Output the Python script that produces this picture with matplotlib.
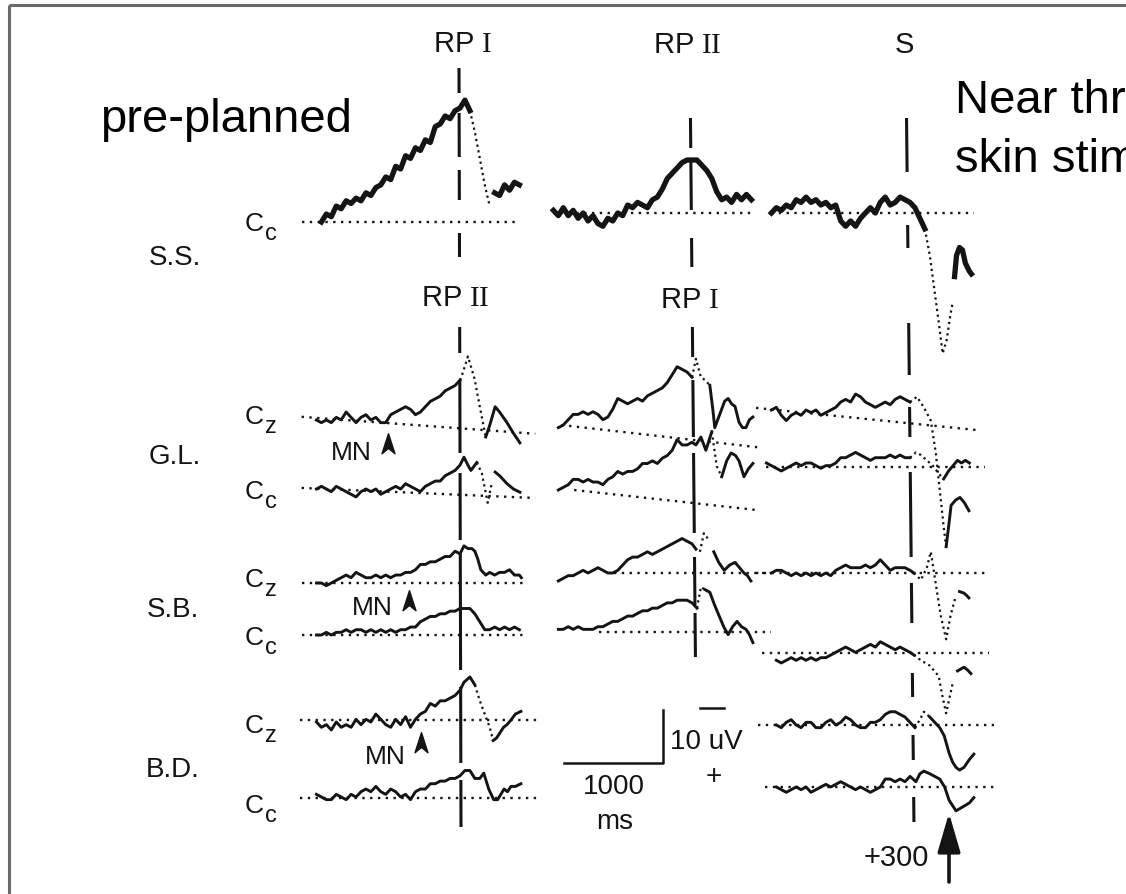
import numpy as np
import matplotlib
matplotlib.use("Agg")
import matplotlib.pyplot as plt
import matplotlib.transforms as mtransforms
from matplotlib.path import Path

plt.rcParams['font.family'] = ['Liberation Sans', 'DejaVu Sans']
plt.rcParams['mathtext.fontset'] = 'custom'
plt.rcParams['mathtext.rm'] = 'Liberation Serif'

# ---- data: traces in ms (event = 0) and uV (negative = up) ----
# pre-event part sampled every 50 ms starting at t0, post-event part as (t, v)
STEP = 50

# S.S. (Cc)
ss1_pre = [0, -1.5, -1, -3, -2.5, -4, -3.5, -4.5, -4, -5.5, -5, -6.5, -7, -8.5, -8,
           -10.5, -10, -12.5, -12, -14, -13.5, -15.5, -15, -18, -18.5, -20, -19.5, -21, -21.5]
ss1_t = [50, 100, 150, 200, 250, 300, 350, 400, 450, 500, 550, 600]
ss1_v = [-23, -21, -17, -12, -7, -3, -5.5, -5, -7, -6, -7.5, -7]

ss2_pre = [-0.5, 0.5, -1, 0.5, -0.5, 1, 0, 1.5, 0.5, 2, 2.5, 1, 1.5, 0, 0.5, -1.5, -1,
           -2, -1.5, -1, -2.5, -3, -4.5, -6.5, -7.5, -8.5, -9.5, -10, -10]
ss2_t = [50, 100, 150, 200, 250, 300, 350, 400, 450, 500, 550, 600]
ss2_v = [-10, -9, -8, -6.5, -4, -2.5, -3, -2, -3.5, -2.5, -3.5, -2.5]

ss3_pre = [0, -1, -0.5, -1.5, -1, -2.5, -2, -3, -2, -2.5, -1.5, -2, -1, -1.5, 1.5, 2.5,
           1.5, 2.5, 1, 0, -1, 0, -2, -3, -1.5, -2, -3, -2.5, -2]
ss3_t = [50, 100, 150, 200, 250, 300, 330, 370, 410, 430, 450, 470, 500, 530, 560, 600, 620]
ss3_v = [-1, 1, 3, 8, 15, 22, 26.5, 24, 19, 17, 12, 8, 6.5, 7, 9.5, 11, 11.5]

# G.L. (Cz, Cc)
glz1_pre = [0, 0.5, 0, 0.5, -0.5, 0, -1.5, -0.5, 0.5, -0.5, -1, 0, -0.5, 0.5, 0.5, -1,
            -1.5, -2, -2.5, -2, -1, -1.5, -2.5, -3.5, -4, -4.5, -5.5, -6, -6.5, -7.5]
glz1_t = [30, 80, 120, 150, 200, 260, 300, 355, 400, 475, 540, 605]
glz1_v = [-9, -12, -9.5, -7.5, -2.5, 3.2, 1, -2.5, -1.5, 0.5, 2.5, 4.3]

glc1_pre = [0, -0.5, 0, 0.5, -0.5, 0, 0.5, 1, 1.5, 0.5, 0, 0.5, 0, 1, 0.5, 0, -0.5, 0,
            -1, -0.5, 0, 0.5, -0.5, -1, -1.5, -1.5, -2.5, -3, -3.5, -4.5]
glc1_t = [40, 80, 110, 170, 220, 280, 320, 355, 400, 475, 540, 605]
glc1_v = [-6, -4.5, -3.5, -5, -3, 2.6, -1, -3.2, -2.5, -1, 0, 0.6]

glz2_pre = [0.5, 0, -1, -2, -2, -2.5, -2, -2.5, -2, -1, -1.5, -3, -5, -4.5, -4, -4.5, -5,
            -4.5, -5.5, -6, -6.5, -7, -8, -9.5, -11, -10.5, -10, -9]
glz2_t = [40, 90, 130, 180, 210, 230, 260, 290, 330, 365, 400, 435, 475, 510, 545, 580, 615]
glz2_v = [-12.5, -9, -8.5, -7.5, -3, 0.5, -1, -2.5, -4.5, -5, -4, -3.5, -0.5, 0.5, 0.5, -1, -1.5]

glc2_pre = [0, -0.5, -1, -2, -2, -1.5, -2, -1.5, -1.5, -1, -2, -2.5, -3.5, -3, -3.5, -3.5,
            -4, -5, -5, -5.5, -5, -6, -6.5, -7.5, -9.5, -8.5, -8.5, -9]
glc2_t = [40, 90, 140, 200, 250, 300, 350, 395, 440, 475, 525, 570, 615]
glc2_v = [-8.5, -10, -7.5, -11, -4.5, -2.5, -5.5, -7, -6.5, -5.5, -2.5, -4, -5]

glz3_pre = [0, -0.5, 1, 2, 1, 0.5, 1, 0, 0.5, 0, 1, 0.5, 0, -0.5, -1.5, -2, -1.5, -3,
            -2.5, -1.5, -1, -0.5, -1, -1.5, -1, -2, -2.5, -2, -1.5]
glz3_t = [70, 140, 210, 260, 300, 340, 365, 390, 415, 460, 505, 550, 595]
glz3_v = [-2.5, -0.5, 2, 8, 15, 22, 25.8, 22, 18, 17, 16.5, 17.5, 19]

glc3_pre = [0, 0.5, 1, 1.5, 1, 0.5, 0, 0.5, 0, 0, 0.5, 1, 0.5, 0.5, 0, -1, -1, -1.5, -2,
            -1.5, -1, -0.5, -1, -1, -1, -1.5, -1, -1.5, -1, -1]
glc3_t = [60, 110, 170, 230, 290, 340, 390, 435, 480, 520, 560, 600]
glc3_v = [-2, -1.5, -0.5, 0.5, 2, 3, 1.5, 0.5, -0.5, 0, -0.5, 0]

# S.B. (Cz, Cc)
sbz1_pre = [0, 0, 0.5, 0, -0.5, -1, -1.5, -1, -2, -1.5, -1, -1, -1.5, -1, -1.5, -1, -1.5,
            -1.5, -2, -2, -2.5, -3.5, -3.5, -4, -4, -4.5, -5, -5, -6, -5.5]
sbz1_t = [40, 80, 120, 150, 180, 210, 260, 300, 350, 400, 450, 500, 550, 600, 620]
sbz1_v = [-7, -6.5, -6.5, -6, -4.5, -2.5, -1.5, -2, -1.5, -2, -2, -2.5, -1.5, -1.5, -1]

sbc1_pre = [0, 0, -0.5, 0, -0.5, -0.5, -1, -0.5, -1, -1, -0.5, -1, -0.5, -1, -0.5, -1,
            -0.5, -1, -1, -1.5, -1.5, -2.5, -3, -3.5, -3.5, -4, -4, -4.5, -4.5, -5]
sbc1_t = [50, 100, 150, 200, 250, 300, 350, 400, 450, 500, 550, 600]
sbc1_v = [-5, -5, -4, -2.5, -1, -1, -1.5, -1, -1.5, -1, -1.5, -1]

sbz2_pre = [1.5, 1, 0.5, 0.5, 0, -0.5, 0, -0.5, -1, -0.5, 0, 0, -0.5, -1.5, -2.5, -3, -3,
            -3.5, -4, -3.5, -4, -4.5, -5, -5.5, -6, -6.5, -6, -5.5]
sbz2_t = [40, 80, 120, 160, 220, 270, 325, 380, 435, 480, 525, 560, 595]
sbz2_v = [-4.5, -4, -7.5, -6.5, -4, -2, -0.5, -1.5, -2, -1, 0, 0.5, 1.5]

sbc2_pre = [-0.5, -0.5, -1, -0.5, -1, -0.5, -0.5, -0.5, -1, -1, -1.5, -2, -2, -2.5, -3,
            -3, -3.5, -4, -4, -4.5, -4.5, -5, -5.5, -5.5, -6, -6, -6, -5.5]
sbc2_t = [50, 90, 130, 180, 230, 275, 320, 365, 410, 455, 500, 545, 580, 615]
sbc2_v = [-4.5, -8.5, -8, -7.5, -5, -3, -1, 0.5, -1, -2, -1, -0.5, 0.5, 2]

sbz3_pre = [0, -0.5, -0.5, 0, 0.5, 0, 0.5, 0, 0.5, 0, 0.5, 0, 0.5, -0.5, -1, -1.5, -1,
            -1, -1, -1.5, -1, -1.5, -2.5, -1.5, -0.5, -1, -1, -1, -0.5]
sbz3_t = [40, 110, 170, 210, 260, 310, 365, 410, 460, 500, 545, 570, 595]
sbz3_v = [0, 1.3, -1, -4, 2, 8, 12.5, 8, 4.5, 3.5, 3.8, 4.2, 4.7]

sbc3_pre = [1, 1.5, 1, 0.5, 1, 0.5, 1, 0.5, 1, 0.5, 0.5, 0, -0.5, -1, -1.5, -1, -0.5, -1,
            -1.5, -2, -1.5, -2.5, -2, -1.5, -1, -1.5, -1, -0.5]
sbc3_t = [40, 110, 200, 290, 330, 365, 400, 435, 480, 545, 580, 615]
sbc3_v = [0, 1, 2, 4, 8, 11, 8, 5, 3, 2.3, 2.8, 3.5]

# B.D. (Cz, Cc)
bdz1_pre = [0, 1, 0.5, 1.5, 0, 1, 0.5, 1, -0.5, 0.5, -0.5, 0, -1.5, -0.5, 0.5, 1, -0.5,
            0.5, -1, 1, -0.5, -1.5, -2, -3.5, -3, -4, -4, -4.5, -5, -6]
bdz1_t = [40, 100, 150, 200, 250, 300, 335, 370, 405, 440, 475, 520, 560, 615]
bdz1_v = [-7.5, -8.5, -7, -4, -1.5, 1, 3.5, 3, 2, 1, 0.5, -0.5, -1.5, -2]

bdc1_pre = [-0.5, 0, 0.5, 0.5, -0.5, 0, 0.5, -0.5, 0, -1, -1.5, -1, -2, -1, -0.5, -1.5,
            -1, 0, -0.5, 0.5, -1, -1.5, -1.5, -2.5, -2.5, -3, -3, -3.5, -3.5, -4]
bdc1_t = [50, 100, 150, 200, 240, 290, 340, 380, 445, 480, 515, 560, 615]
bdc1_v = [-5, -5, -3.5, -3.5, -4.5, -1.5, 0.5, 0.5, -1.5, -1, -2, -2, -2.5]

bdz3_pre = [0, 0.5, -0.5, -1, 0, 0.5, -0.5, -0.5, 0.5, 0.5, -0.5, -1, 0, -0.5, -1.5, -1,
            0, 0.5, 0.5, -0.5, -0.5, -1, -2, -2.5, -2.5, -2, -1.5, -0.5]
bdz3_t = [50, 100, 140, 200, 250, 300, 345, 395, 430, 465, 500, 545, 600, 645]
bdz3_v = [0.5, -1, -2.5, -1.5, -0.5, 0.5, 2, 5.3, 7, 8, 8.5, 8, 6.5, 5.5]

bdc3_pre = [0, 0.5, 1, 0.5, 0, 0.5, 0, 1, 0.5, 0, -0.5, 0, -0.5, -1, -0.5, 0, 0.5, 0,
            0.5, 1, 0.5, 0, -1.5, -1.5, -1, -1.5, -1, -2]
bdc3_t = [60, 100, 140, 200, 250, 300, 350, 395, 430, 465, 510, 555, 600, 645]
bdc3_v = [-1, -2.5, -3, -2.5, -2, -1.5, 0, 2.5, 3.5, 4.5, 4, 3.5, 3, 2]

# ---- layout (pixels) ----
W, H = 1126, 894
PX_PER_MS = 0.099   # 1000 ms = 99 px
PX_PER_UV = 5.3     # 10 uV = 53 px
COL_EV = [460, 692, 910]

# (pre, t0, post_t, post_v, column, baseline_y, linewidth, dotted window, baseline (t0, t1, v0, v1))
TRACES = [
    (ss1_pre, -1400, ss1_t, ss1_v, 0, 222, 3.8, (100, 320), (-1600, 585, 0, 0)),
    (ss2_pre, -1400, ss2_t, ss2_v, 1, 213, 3.8, None, (-1400, 630, 0, 0)),
    (ss3_pre, -1400, ss3_t, ss3_v, 2, 213, 3.8, (150, 440), (-1400, 650, 0, 0)),
    (glz1_pre, -1450, glz1_t, glz1_v, 0, 420, 2.1, (0, 260), (-1600, 760, -0.6, 2.6)),
    (glc1_pre, -1450, glc1_t, glc1_v, 0, 489, 2.1, (170, 330), (-1600, 760, -0.2, 1.7)),
    (glz2_pre, -1350, glz2_t, glz2_v, 1, 425, 2.1, (0, 180), (-1320, 665, 0, 4.2)),
    (glc2_pre, -1350, glc2_t, glc2_v, 1, 490, 2.1, (200, 300), (-1190, 665, 0, 3.8)),
    (glz3_pre, -1400, glz3_t, glz3_v, 2, 410, 2.1, (0, 365), (-1555, 685, -0.4, 3.8)),
    (glc3_pre, -1450, glc3_t, glc3_v, 2, 463, 2.1, (0, 340), (-1450, 755, 0.8, 0.8)),
    (sbz1_pre, -1450, sbz1_t, sbz1_v, 0, 583, 2.1, None, (-1600, 655, 0, 0)),
    (sbc1_pre, -1450, sbc1_t, sbc1_v, 0, 635, 2.1, None, (-1600, 655, 0, 0)),
    (sbz2_pre, -1350, sbz2_t, sbz2_v, 1, 573, 2.1, (60, 200), (-790, 800, 0, 0)),
    (sbc2_pre, -1350, sbc2_t, sbc2_v, 1, 632, 2.1, (50, 130), (-940, 800, 0, 0)),
    (sbz3_pre, -1400, sbz3_t, sbz3_v, 2, 573, 2.1, (40, 480), (-1555, 800, 0, 0)),
    (sbc3_pre, -1350, sbc3_t, sbc3_v, 2, 655, 2.1, (40, 470), (-1495, 800, -0.3, -0.3)),
    (bdz1_pre, -1450, bdz1_t, bdz1_v, 0, 722, 2.1, (150, 335), (-1615, 780, -0.4, -0.4)),
    (bdc1_pre, -1450, bdc1_t, bdc1_v, 0, 797, 2.1, None, (-1615, 800, 0.2, 0.2)),
    (bdz3_pre, -1350, bdz3_t, bdz3_v, 2, 725, 2.1, (50, 200), (-1535, 850, 0, 0)),
    (bdc3_pre, -1350, bdc3_t, bdc3_v, 2, 787, 2.1, None, (-1465, 850, 0, 0)),
]

# event marker lines: x at top, x at bottom, visible pieces (y0, y1)
EVENT_LINES = [
    (459, 461, [(68, 93), (113, 157), (170, 200), (233, 257), (327, 353), (380, 453),
                (473, 540), (553, 670), (687, 763), (780, 827)]),
    (690, 697, [(118, 148), (160, 210), (238, 267), (327, 357), (380, 437), (453, 533),
                (557, 605), (613, 657)]),
    (906, 914, [(118, 172), (225, 248), (323, 375), (407, 437), (472, 557), (583, 623),
                (673, 697), (735, 760), (797, 822)]),
]

fig = plt.figure(figsize=(W / 100, H / 100), dpi=100)
ax = fig.add_axes([0, 0, 1, 1])
ax.set_xlim(0, W)
ax.set_ylim(H, 0)
ax.axis('off')

def panel(ev, base):
    return mtransforms.Affine2D().scale(PX_PER_MS, PX_PER_UV).translate(ev, base) + ax.transData

INK = '#141414'

for pre, t0, pt, pv, col, base, lw, dots, bl in TRACES:
    tr = panel(COL_EV[col], base)
    t = np.concatenate([t0 + STEP * np.arange(len(pre)), pt])
    v = np.concatenate([pre, pv])
    # dotted baseline
    ax.plot([bl[0], bl[1]], [bl[2], bl[3]], transform=tr, color=INK, lw=1.7,
            dashes=(1, 2.3), zorder=2)
    if dots is None:
        ax.plot(t, v, transform=tr, color=INK, lw=lw, zorder=3, solid_joinstyle='round')
    else:
        a = t <= dots[0]
        b = (t >= dots[0]) & (t <= dots[1])
        c = t >= dots[1]
        ax.plot(t[a], v[a], transform=tr, color=INK, lw=lw, zorder=3, solid_joinstyle='round')
        ax.plot(t[b], v[b], transform=tr, color=INK, lw=1.6, dashes=(1, 1.6), zorder=3)
        ax.plot(t[c], v[c], transform=tr, color=INK, lw=lw, zorder=3, solid_joinstyle='round')

for xt, xb, pieces in EVENT_LINES:
    for y0, y1 in pieces:
        x0 = xt + (xb - xt) * (y0 - 68) / (827 - 68)
        x1 = xt + (xb - xt) * (y1 - 68) / (827 - 68)
        ax.plot([x0, x1], [y0, y1], color=INK, lw=2.2, solid_capstyle='butt', zorder=4)

# frame (cropped on the right and bottom)
ax.plot([9, 9], [5, H], color='#6a6a6a', lw=2.2, solid_capstyle='butt')
ax.plot([9, W], [5, 5], color='#6a6a6a', lw=2.2, solid_capstyle='butt')

# event labels
for x, y, s in [(463, 44, r'RP $\mathrm{I}$'), (687, 45, r'RP $\mathrm{II}$'), (904, 45, 'S'),
                (455, 298, r'RP $\mathrm{II}$'), (690, 300, r'RP $\mathrm{I}$')]:
    ax.text(x, y, s, fontsize=21, ha='center', va='center', color=INK)

# subject labels
for x, y, s in [(175, 258, 'S.S.'), (175, 457, 'G.L.'), (173, 610, 'S.B.'), (173, 770, 'B.D.')]:
    ax.text(x, y, s, fontsize=20, ha='center', va='center', color=INK)

# channel labels
for y, sub in [(224, 'c'), (417, 'z'), (492, 'c'), (580, 'z'), (638, 'c'), (726, 'z'), (806, 'c')]:
    ax.text(254, y, 'C', fontsize=19, ha='center', va='center', color=INK)
    ax.text(271, y + 10, sub, fontsize=17, ha='center', va='center', color=INK)

# MN markers
arrow_head = Path([(0, 1), (0.55, -0.7), (0, -0.25), (-0.55, -0.7), (0, 1)],
                  [Path.MOVETO, Path.LINETO, Path.LINETO, Path.LINETO, Path.CLOSEPOLY])
for x, y, ax_x, ax_y in [(351, 453, 388, 445), (372, 608, 409, 602), (385, 757, 421, 744)]:
    ax.text(x, y, 'MN', fontsize=19, ha='center', va='center', color=INK)
    ax.plot([ax_x], [ax_y], marker=arrow_head, ms=17, color=INK, mec=INK)

# calibration
cal = panel(663, 763)
ax.plot([-1000, 0, 0], [0, 0, -10], transform=cal, color=INK, lw=1.8)
ax.plot([700, 724], [708, 708], color=INK, lw=1.8)
ax.text(706, 742, '10 uV', fontsize=20, ha='center', va='center', color=INK)
ax.text(714, 777, '+', fontsize=20, ha='center', va='center', color=INK)
ax.text(614, 787, '1000', fontsize=20, ha='center', va='center', color=INK)
ax.text(615, 822, 'ms', fontsize=20, ha='center', va='center', color=INK)

ax.text(896, 858, '+300', fontsize=21, ha='center', va='center', color=INK)
ax.annotate('', xy=(949, 813), xytext=(949, 882),
            arrowprops=dict(arrowstyle='-|>,head_length=1.2,head_width=0.35',
                            lw=2.6, color=INK, mutation_scale=20, shrinkA=0, shrinkB=0))

# annotations added on top of the figure (the right one is cropped by the image edge)
ax.text(100, 132, 'pre-planned', fontsize=34, ha='left', va='baseline', color='black')
ax.text(955, 113, 'Near threshold', fontsize=34, ha='left', va='baseline', color='black')
ax.text(955, 172, 'skin stimulation', fontsize=34, ha='left', va='baseline', color='black')

fig.savefig('out.png', dpi=100)
